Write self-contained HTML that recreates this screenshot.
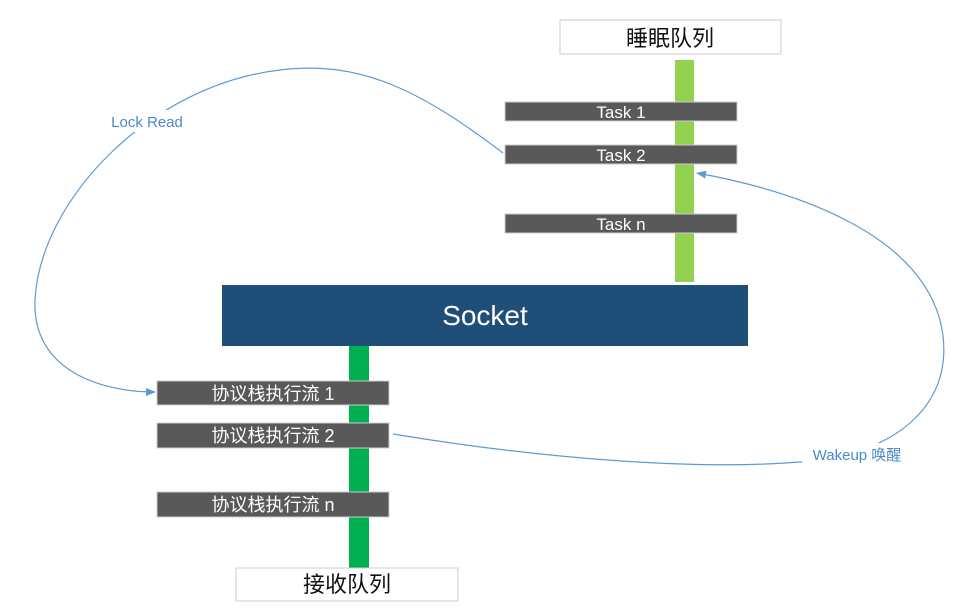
<!DOCTYPE html>
<html><head><meta charset="utf-8"><style>
body{margin:0;background:#fff;}
svg text{font-family:"Liberation Sans","Noto Sans CJK SC",sans-serif;}
</style></head><body>
<svg width="960" height="608" xmlns="http://www.w3.org/2000/svg">
<defs><marker id="a" markerWidth="10" markerHeight="8" refX="9" refY="4" orient="auto" markerUnits="userSpaceOnUse"><path d="M0,0 L10,4 L0,8z" fill="#5b9bd5"/></marker></defs>
<rect x="560" y="20" width="221" height="34" fill="#fff" stroke="#ccc"/>
<text x="670" y="46" font-size="22" text-anchor="middle" fill="#111">睡眠队列</text>
<rect x="675" y="60" width="19" height="222" fill="#92d050"/>
<g fill="#595959" stroke="#ccc" stroke-width="1">
<rect x="505" y="102" width="232" height="19"/><rect x="505" y="145" width="232" height="19"/><rect x="505" y="214" width="232" height="19"/>
</g>
<g fill="#fff" font-size="17" text-anchor="middle">
<text x="621" y="118">Task 1</text><text x="621" y="161">Task 2</text><text x="621" y="230">Task n</text>
</g>
<rect x="222" y="285" width="526" height="61" fill="#1f4e79"/>
<text x="485" y="325" font-size="28" fill="#fff" text-anchor="middle">Socket</text>
<rect x="349" y="346" width="20" height="222" fill="#00b050"/>
<g fill="#595959" stroke="#ccc" stroke-width="1">
<rect x="157" y="381" width="232" height="24"/><rect x="157" y="423" width="232" height="25"/><rect x="157" y="492" width="232" height="25"/>
</g>
<g fill="#fff" font-size="18" text-anchor="middle">
<text x="273" y="400">协议栈执行流 1</text><text x="273" y="442">协议栈执行流 2</text><text x="273" y="511">协议栈执行流 n</text>
</g>
<rect x="236" y="568" width="222" height="33" fill="#fff" stroke="#ccc"/>
<text x="347" y="592" font-size="22" text-anchor="middle" fill="#111">接收队列</text>
<path d="M503,153 C420,90 360,60 280,70 C150,85 40,200 35,300 C32,370 100,392 155,392" fill="none" stroke="#5b9bd5" stroke-width="1.2" marker-end="url(#a)"/>
<path d="M393,434 C550,460 700,470 800,462 C900,455 960,400 940,320 C915,230 790,190 697,173" fill="none" stroke="#5b9bd5" stroke-width="1.2" marker-end="url(#a)"/>
<rect x="104" y="110" width="86" height="22" fill="#fff"/>
<text x="147" y="127" font-size="15" fill="#4a8ac8" text-anchor="middle">Lock Read</text>
<rect x="802" y="443" width="112" height="24" fill="#fff"/>
<text x="857" y="460" font-size="15" fill="#4a8ac8" text-anchor="middle">Wakeup 唤醒</text>
</svg>
</body></html>
